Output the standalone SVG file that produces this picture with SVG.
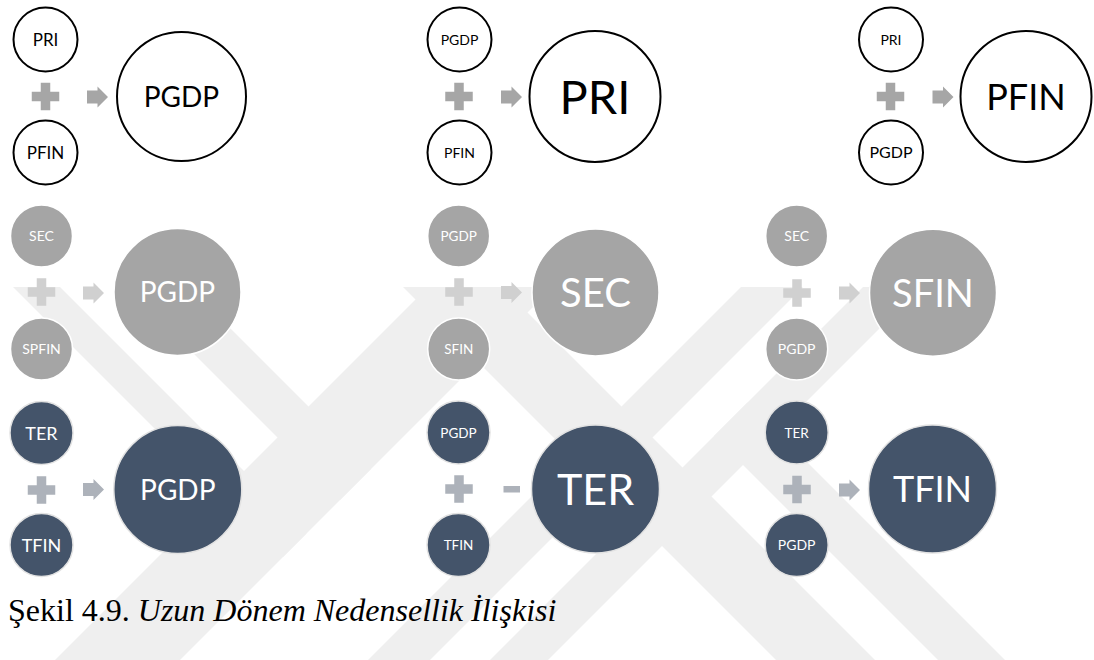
<svg xmlns="http://www.w3.org/2000/svg" xmlns:xlink="http://www.w3.org/1999/xlink" width="1094" height="660" viewBox="0 0 1094 660">
  <style>
    .lbl { font-family: Lato, "Open Sans", "Liberation Sans", sans-serif; text-anchor: middle; }
    .r1 circle { fill: #ffffff; stroke: #000000; stroke-width: 2; }
    .r1 text { fill: #000000; }
    .r2 circle { fill: #a5a5a5; stroke: #ffffff; stroke-width: 1.5; }
    .r2 text { fill: #ffffff; }
    .r3 circle { fill: #44546a; stroke: #e2e2e2; stroke-width: 1.5; }
    .r3 text { fill: #ffffff; }
    .op1 { fill: #a6a6a6; }
    .op2 { fill: #d0d0d0; }
    .op3 { fill: #adb2ba; }
    .wm { fill: #efefef; }
    .cap { font-family: "Liberation Serif", "Times New Roman", serif; font-size: 32px; fill: #000000; }
  </style>
  <defs>
    <path id="plus" d="M-4.75,-13.75 H4.75 V-4.75 H13.75 V4.75 H4.75 V13.75 H-4.75 V4.75 H-13.75 V-4.75 H-4.75 Z"/>
    <path id="arrow" d="M-10.5,-6.5 H0 V-10.5 L10.5,0 L0,10.5 V6.5 H-10.5 Z"/>
    <clipPath id="wmclip"><rect x="0" y="287" width="1094" height="373"/></clipPath>
  </defs>

  <rect width="1094" height="660" fill="#ffffff"/>

  <!-- faint background emblem made of diagonal bands -->
  <g id="watermark" clip-path="url(#wmclip)">
    <!-- wide bands -->
    <polygon class="wm" points="428,287 553,287 180,660 55,660"/>
    <polygon class="wm" points="403,287 502,287 875,660 776,660"/>
    <!-- narrow bands from the upper left, ending on the wide band -->
    <polygon class="wm" points="13,287 60,287 306.5,533.5 283,557"/>
    <polygon class="wm" points="127,287 189,287 371,469 340,500"/>
    <!-- narrow bands from the upper right, running to the bottom -->
    <polygon class="wm" points="741,287 803,287 430,660 368,660"/>
    <polygon class="wm" points="863,287 921,287 548,660 490,660"/>
    <!-- branch leaving the outer right band towards the lower right -->
    <polygon class="wm" points="747.5,402.5 1005,660 938,660 714,436"/>
  </g>

  <!-- connectors: plus / arrow / minus signs between operands and results -->
  <g id="connectors">
    <use xlink:href="#plus" x="45.5" y="96.5" class="op1"/>
    <use xlink:href="#arrow" x="97.5" y="97" class="op1"/>
    <use xlink:href="#plus" x="41.5" y="292" class="op2"/>
    <use xlink:href="#arrow" x="93.5" y="293" class="op2"/>
    <use xlink:href="#plus" x="41.5" y="490" class="op3"/>
    <use xlink:href="#arrow" x="93.5" y="489.5" class="op3"/>

    <use xlink:href="#plus" x="459" y="96.5" class="op1"/>
    <use xlink:href="#arrow" x="511.5" y="97" class="op1"/>
    <use xlink:href="#plus" x="459" y="292" class="op2"/>
    <use xlink:href="#arrow" x="511.5" y="292.5" class="op2"/>
    <use xlink:href="#plus" x="459" y="489" class="op3"/>
    <rect x="503.5" y="486" width="16.5" height="6.5" class="op3"/>

    <use xlink:href="#plus" x="890.5" y="96.5" class="op1"/>
    <use xlink:href="#arrow" x="943" y="97" class="op1"/>
    <use xlink:href="#plus" x="797" y="293" class="op2"/>
    <use xlink:href="#arrow" x="849.5" y="293" class="op2"/>
    <use xlink:href="#plus" x="797" y="489.5" class="op3"/>
    <use xlink:href="#arrow" x="849.5" y="490" class="op3"/>
  </g>

  <!-- panel 1 -->
  <g class="r1 lbl">
    <g id="p1-pri"><circle cx="45.5" cy="39.5" r="32"/><text x="45.5" y="46" font-size="17">PRI</text></g>
    <g id="p1-pfin"><circle cx="45.5" cy="152.5" r="32"/><text x="45.5" y="159" font-size="17">PFIN</text></g>
    <g id="p1-pgdp"><circle cx="181.5" cy="96.5" r="64.5"/><text x="181.5" y="106.5" font-size="28">PGDP</text></g>
  </g>
  <g class="r2 lbl">
    <g id="p1-sec"><circle cx="41.5" cy="236" r="31"/><text x="41.5" y="241" font-size="14">SEC</text></g>
    <g id="p1-spfin"><circle cx="41.5" cy="349" r="31"/><text x="41.5" y="354" font-size="14">SPFIN</text></g>
    <g id="p1-pgdp2"><circle cx="177.5" cy="292" r="63.5"/><text x="177.5" y="302" font-size="28">PGDP</text></g>
  </g>
  <g class="r3 lbl">
    <g id="p1-ter"><circle cx="41.5" cy="433" r="31.5"/><text x="41.5" y="439.5" font-size="18">TER</text></g>
    <g id="p1-tfin"><circle cx="41.5" cy="545" r="31.5"/><text x="41.5" y="551.5" font-size="18">TFIN</text></g>
    <g id="p1-pgdp3"><circle cx="177.8" cy="489.5" r="64"/><text x="177.8" y="499.5" font-size="28">PGDP</text></g>
  </g>

  <!-- panel 2 -->
  <g class="r1 lbl">
    <g id="p2-pgdp"><circle cx="459.5" cy="39.5" r="32"/><text x="459.5" y="44.5" font-size="14">PGDP</text></g>
    <g id="p2-pfin"><circle cx="459.5" cy="152.5" r="32"/><text x="459.5" y="157.5" font-size="14">PFIN</text></g>
    <g id="p2-pri"><circle cx="595" cy="96.5" r="65.5"/><text x="595" y="113.5" font-size="47">PRI</text></g>
  </g>
  <g class="r2 lbl">
    <g id="p2-pgdp2"><circle cx="458.7" cy="236" r="31"/><text x="458.7" y="241" font-size="13.5">PGDP</text></g>
    <g id="p2-sfin"><circle cx="458.7" cy="349" r="31"/><text x="458.7" y="354" font-size="13.5">SFIN</text></g>
    <g id="p2-sec"><circle cx="595.5" cy="292.5" r="63.5"/><text x="595.5" y="307" font-size="40">SEC</text></g>
  </g>
  <g class="r3 lbl">
    <g id="p2-pgdp3"><circle cx="458.5" cy="432.5" r="31.5"/><text x="458.5" y="437.5" font-size="13.5">PGDP</text></g>
    <g id="p2-tfin"><circle cx="458.5" cy="545" r="31.5"/><text x="458.5" y="550" font-size="13.5">TFIN</text></g>
    <g id="p2-ter"><circle cx="595.5" cy="489" r="64"/><text x="595.5" y="504.5" font-size="43">TER</text></g>
  </g>

  <!-- panel 3 -->
  <g class="r1 lbl">
    <g id="p3-pri"><circle cx="891" cy="39.5" r="32"/><text x="891" y="44.5" font-size="14">PRI</text></g>
    <g id="p3-pgdp"><circle cx="891" cy="152.5" r="32"/><text x="891" y="158" font-size="16">PGDP</text></g>
    <g id="p3-pfin"><circle cx="1026" cy="96.5" r="65.5"/><text x="1026" y="109.5" font-size="36">PFIN</text></g>
  </g>
  <g class="r2 lbl">
    <g id="p3-sec"><circle cx="796.7" cy="236" r="31"/><text x="796.7" y="241" font-size="14">SEC</text></g>
    <g id="p3-pgdp2"><circle cx="796.7" cy="349" r="31"/><text x="796.7" y="354" font-size="14">PGDP</text></g>
    <g id="p3-sfin"><circle cx="933" cy="292.7" r="63.5"/><text x="933" y="306.5" font-size="38">SFIN</text></g>
  </g>
  <g class="r3 lbl">
    <g id="p3-ter"><circle cx="796.7" cy="432.5" r="31.5"/><text x="796.7" y="437.5" font-size="13.5">TER</text></g>
    <g id="p3-pgdp3"><circle cx="796.7" cy="545" r="31.5"/><text x="796.7" y="550" font-size="14">PGDP</text></g>
    <g id="p3-tfin"><circle cx="932.5" cy="489" r="64"/><text x="932.5" y="502" font-size="36">TFIN</text></g>
  </g>

  <!-- figure caption -->
  <text class="cap" x="8" y="621">Şekil 4.9. <tspan font-style="italic">Uzun Dönem Nedensellik İlişkisi</tspan></text>
</svg>
